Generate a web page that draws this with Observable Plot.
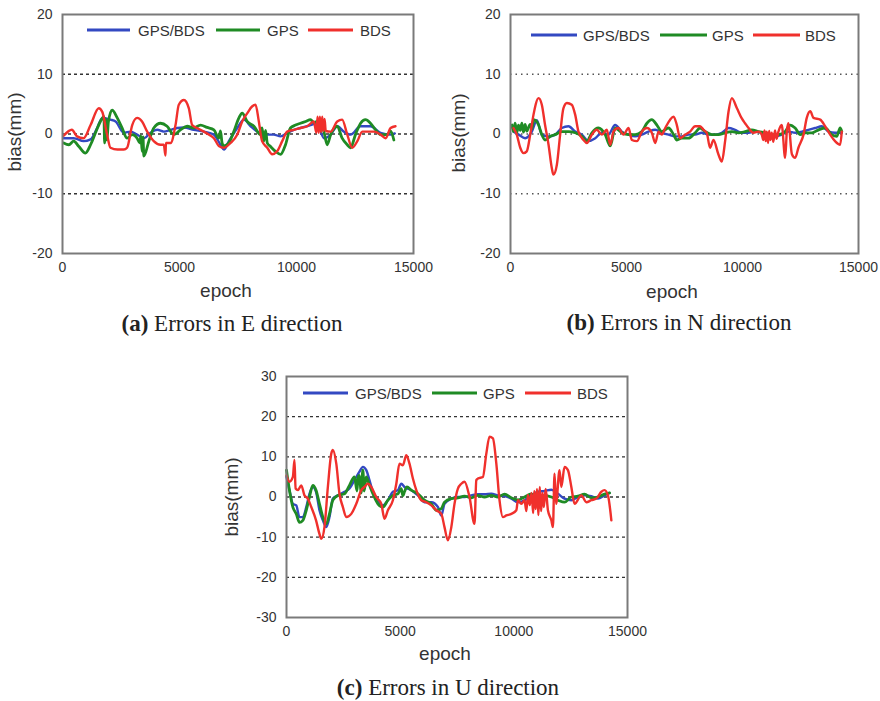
<!DOCTYPE html>
<html><head><meta charset="utf-8">
<script src="https://cdn.jsdelivr.net/npm/d3@7"></script>
<script src="https://cdn.jsdelivr.net/npm/@observablehq/plot@0.6"></script>
<style>
body{margin:0;background:#fff;}
#root{position:relative;width:880px;height:701px;overflow:hidden;background:#fff;}
#root svg{position:absolute;}
</style></head><body><div id="root"></div>
<script>
// ---------- labels ----------
const seriesNames = ["GPS/BDS", "GPS", "BDS"];
const seriesColors = ["#3349c2", "#1f8b24", "#f0302c"];
const xTicks = [0, 5000, 10000, 15000];
const yTicksEN = [-20, -10, 0, 10, 20];
const yTicksU = [-30, -20, -10, 0, 10, 20, 30];
const gridEN = [-10, 0, 10];
const gridU = [-20, -10, 0, 10, 20];
const panelLetters = ["(a)", "(b)", "(c)"];
const panelTitles = [" Errors in E direction", " Errors in N direction", " Errors in U direction"];
const yLabel = "bias(mm)";
const xLabel = "epoch";

// ---------- (a) E direction: [epoch, bias mm] ----------
const eGpsBds = [[50,-0.7],[480,-0.7],[900,-1.2],[1200,-0.9],[1480,1.0],[1700,2.7],[2050,2.4],[2270,2.1],[2620,0.2],[2910,0.4],[3190,-0.1],[3480,-0.7],[3760,0.2],[4050,0.7],[4330,0.4],[4620,0.7],[4900,1.0],[5190,1.1],[5610,0.7],[6040,0.4],[6470,-0.1],[6750,-1.8],[6900,-2.6],[7110,-1.2],[7470,1.0],[7750,2.4],[8040,1.3],[8320,0.4],[8600,-0.1],[9030,-0.1],[9320,-0.4],[9600,0.2],[9890,0.7],[10170,1.0],[10600,1.5],[10890,1.8],[11170,-0.7],[11460,-0.1],[11740,1.3],[12020,0.4],[12310,-0.1],[12740,1.3],[13160,1.3],[13590,0.2],[14020,-0.1],[14200,0.1]];
const eGps = [[50,-1.5],[270,-1.8],[480,-1.2],[700,-2.1],[980,-3.2],[1200,-1.8],[1410,0.2],[1620,2.1],[1770,2.9],[1800,-1.5],[1850,2.5],[1900,-1.0],[1960,2.0],[2120,4.0],[2340,2.7],[2550,1.0],[2760,-0.7],[2980,-0.1],[3190,-0.7],[3300,-1.5],[3350,-0.3],[3405,-2.9],[3440,-0.5],[3476,-3.7],[3690,-1.2],[3900,1.0],[4190,1.8],[4470,1.3],[4760,-0.1],[5040,0.7],[5330,1.3],[5610,1.0],[5900,1.5],[6180,1.1],[6470,0.7],[6680,-0.7],[6750,0.5],[6820,-1.5],[6900,-2.0],[7110,-1.5],[7320,0.4],[7540,2.7],[7680,3.5],[7890,2.1],[8180,1.3],[8460,-0.1],[8530,1.0],[8600,-1.2],[8680,0.6],[8750,-1.5],[8890,-2.1],[9100,-2.9],[9320,-3.4],[9530,-1.8],[9740,1.0],[9960,1.5],[10170,1.8],[10390,2.1],[10600,2.4],[10740,1.9],[10890,2.1],[11170,0.4],[11310,-1.8],[11460,-0.1],[11740,1.3],[11950,-0.7],[12170,-1.8],[12310,-2.3],[12520,-0.1],[12740,1.8],[12950,2.4],[13160,1.8],[13380,0.7],[13590,-0.1],[13880,-0.1],[14020,0.5],[14160,-1.0]];
const eBds = [[50,-0.3],[400,0.7],[620,-0.4],[900,-0.7],[1200,1.5],[1550,4.3],[1700,3.7],[1900,0],[2050,-2.3],[2350,-2.6],[2620,-2.6],[2760,-2.3],[2980,1.5],[3190,2.7],[3400,2.1],[3620,0.4],[3900,-1.2],[4190,-1.8],[4330,-1.8],[4400,-3.6],[4420,-1.5],[4620,-1.5],[4830,1.5],[4970,4.9],[5190,5.7],[5400,4.3],[5540,1.5],[5750,1.0],[6040,0.4],[6250,-0.1],[6470,-0.7],[6680,-2.0],[6900,-2.3],[7180,-1.5],[7470,-0.1],[7680,2.1],[7900,3.5],[8100,4.6],[8250,4.9],[8390,2.1],[8530,-1.2],[8750,-2.3],[8960,-3.4],[9170,-2.9],[9390,-1.2],[9600,0.4],[9890,0.7],[10170,1.0],[10460,1.3],[10740,2.1],[10850,0.2],[10900,2.9],[10950,0.2],[11000,2.9],[11050,0.3],[11100,2.9],[11150,0.5],[11200,2.5],[11250,0.5],[11460,0.4],[11740,2.1],[11950,2.4],[12170,-0.1],[12380,-2.3],[12600,-1.2],[12810,0.4],[13020,0.4],[13310,0.4],[13590,-0.1],[13810,-0.7],[14020,1.0],[14230,1.3]];

// ---------- (b) N direction ----------
const nGpsBds = [[130,0.4],[350,-0.1],[630,-0.7],[920,0.4],[1135,2.3],[1350,-0.1],[1640,-0.4],[1930,-0.1],[2210,1.0],[2500,1.3],[2790,0.4],[3080,-0.1],[3360,-1.2],[3650,-0.7],[3940,0.2],[4220,-0.1],[4510,1.5],[4800,0.4],[5090,-0.1],[5370,-0.4],[5660,-0.1],[5950,0.4],[6240,0.7],[6520,0.2],[6810,-0.1],[7100,-0.4],[7380,-0.4],[7670,-0.1],[7960,-0.1],[8250,0.2],[8530,-0.1],[8820,-0.1],[9110,0.2],[9400,1.0],[9680,0.7],[9970,0.2],[10260,0.2],[10550,0.4],[10830,0.2],[11120,-0.1],[11410,-0.4],[11690,-0.1],[11980,0.4],[12270,0.2],[12560,0.4],[12840,0.7],[13130,1.0],[13420,1.3],[13710,0.4],[13990,0.2],[14280,0.2]];
const nGps = [[60,1.5],[130,0.4],[200,1.8],[270,0.2],[345,1.5],[420,0.6],[490,1.8],[560,0.3],[630,1.6],[700,0.5],[850,1.6],[920,0.8],[1000,2.4],[1210,1.5],[1350,-0.1],[1490,-1.0],[1710,-0.4],[1930,-0.1],[2210,0.4],[2500,0.4],[2790,0.2],[3080,-0.4],[3290,-1.2],[3510,0.2],[3790,1.0],[4080,-0.1],[4300,-2.0],[4510,1.0],[4800,0.2],[5090,-0.1],[5370,-0.1],[5660,0.4],[5880,1.8],[6090,2.4],[6310,1.5],[6520,0.4],[6810,1.0],[7030,-0.1],[7170,-1.0],[7380,-0.7],[7670,-0.7],[7960,0.2],[8170,1.0],[8390,0.4],[8680,-0.1],[8960,-0.1],[9250,0.2],[9540,0.4],[9830,0.2],[10110,0.4],[10400,0.7],[10690,0.4],[10980,0.2],[11260,-0.1],[11550,-0.1],[11840,0.4],[12050,1.5],[12270,1.0],[12490,-0.1],[12700,0.2],[12990,0.2],[13280,0.7],[13560,1.0],[13850,-0.1],[14060,-0.4],[14210,1.0],[14280,0.4]];
const nBds = [[130,1.0],[270,-0.1],[420,-2.3],[560,-3.2],[700,-2.9],[850,-0.1],[990,3.2],[1210,6.0],[1350,4.9],[1490,1.5],[1640,-1.8],[1780,-5.7],[1850,-6.8],[2000,-5.1],[2140,-0.1],[2280,4.3],[2430,5.2],[2640,4.9],[2790,3.2],[2930,0.4],[3150,-1.0],[3290,-1.5],[3510,-0.1],[3720,0.7],[3940,-0.1],[4150,0.7],[4300,-1.8],[4440,0.4],[4650,1.0],[4870,-0.1],[5090,1.0],[5230,-1.0],[5450,-1.2],[5660,0.4],[5880,1.0],[6090,0.2],[6240,-1.5],[6380,0.4],[6520,-0.1],[6670,1.0],[6880,2.4],[7030,2.9],[7170,1.5],[7310,-0.7],[7530,-0.1],[7740,0.4],[7960,1.3],[8170,1.3],[8320,0.7],[8460,0.2],[8600,-2.3],[8750,-1.0],[8960,-3.4],[9110,-4.6],[9250,-1.2],[9400,3.8],[9540,6.0],[9760,4.3],[9970,2.6],[10110,1.8],[10260,1.0],[10470,0.2],[10690,0.4],[10830,-0.1],[10900,-1.0],[10950,0.6],[11000,-1.2],[11050,0.4],[11100,-1.5],[11150,0.5],[11200,-1.0],[11260,0.2],[11330,-1.3],[11400,0.6],[11470,-0.8],[11550,0.4],[11690,1.5],[11840,-4.0],[11910,0.4],[11980,1.8],[12130,-3.4],[12270,-4.0],[12410,-2.3],[12630,-0.1],[12770,2.7],[12920,3.8],[13060,2.7],[13350,2.4],[13560,1.3],[13780,-0.1],[13990,-1.2],[14210,-1.8],[14280,0.4]];

// ---------- (c) U direction ----------
const uGpsBds = [[0,5.0],[130,1.7],[280,-1.7],[430,-2.1],[570,-5.0],[720,-5.0],[870,-2.5],[1010,0.8],[1160,2.5],[1300,1.3],[1450,-3.3],[1600,-5.8],[1750,-7.5],[1890,-5.0],[2040,-0.4],[2260,0.4],[2550,1.3],[2770,2.1],[2990,4.2],[3210,6.3],[3360,7.5],[3510,6.7],[3650,4.2],[3800,1.3],[4020,-0.8],[4240,-2.1],[4460,-0.8],[4680,1.3],[4900,1.7],[5050,3.3],[5190,2.5],[5490,1.7],[5780,0.4],[6070,-1.3],[6370,-1.3],[6660,-2.5],[6810,-4.6],[6950,-1.7],[7250,-0.4],[7540,0],[7830,0],[8130,0.4],[8420,0.7],[8710,0.7],[9010,0.8],[9300,0.4],[9590,0.2],[9890,-0.4],[10180,-1.3],[10470,-0.8],[10770,0.4],[11060,1.3],[11350,1.5],[11650,1.8],[11940,0.8],[12230,-0.4],[12530,-0.8],[12820,0],[13110,0.4],[13410,0.2],[13700,-0.4],[13990,0.4],[14210,1.0]];
const uGps = [[0,6.7],[130,1.7],[280,-2.5],[430,-4.2],[570,-6.3],[720,-5.8],[870,-3.3],[1010,0],[1160,2.9],[1300,1.7],[1450,-1.7],[1600,-5.0],[1750,-6.7],[1890,-4.2],[2040,-0.8],[2260,0.4],[2550,0.8],[2770,2.9],[2990,5.0],[3100,1.5],[3150,5.0],[3210,5.4],[3280,1.0],[3359,6.7],[3420,1.5],[3505,5.0],[3650,2.9],[3800,0.8],[4020,-1.7],[4240,-2.5],[4460,-0.8],[4680,0.4],[4900,0.8],[5050,2.1],[5120,0.3],[5190,1.3],[5300,2.5],[5485,1.7],[5780,0.8],[6070,-0.8],[6370,-1.7],[6590,-3.3],[6810,-2.9],[6950,-1.3],[7250,-0.4],[7540,-0.2],[7830,0.2],[8130,-0.2],[8420,0.4],[8710,0],[9010,0.4],[9300,0],[9590,0.7],[9890,-0.2],[10180,-0.7],[10470,0],[10770,0.8],[11060,-0.4],[11350,0.4],[11650,0],[11940,-0.8],[12230,-1.3],[12530,0],[12820,0.2],[13110,0.7],[13410,-0.2],[13700,0],[13990,0.7],[14210,1.0]];
const uBds = [[0,5.4],[130,3.8],[280,5.0],[350,9.2],[400,2.1],[500,1.7],[650,2.9],[790,0.4],[940,-0.4],[1090,-2.5],[1300,-5.8],[1450,-9.2],[1530,-10.4],[1670,-7.5],[1820,2.5],[1970,10.8],[2040,11.7],[2190,8.3],[2330,0.8],[2480,-2.5],[2630,-5.0],[2850,-4.2],[3070,-1.7],[3290,1.7],[3430,2.5],[3580,3.3],[3730,2.5],[3950,0],[4170,-1.7],[4310,-5.4],[4460,-3.3],[4680,-0.8],[4830,3.3],[4970,8.3],[5120,7.9],[5270,10.4],[5410,8.3],[5560,4.6],[5710,1.7],[5930,-0.8],[6150,-1.3],[6370,-2.1],[6590,-3.3],[6810,-4.2],[6950,-7.5],[7100,-10.8],[7250,-7.5],[7390,-1.7],[7540,2.1],[7690,3.3],[7830,3.8],[8050,0],[8270,-6.7],[8350,4.2],[8420,4.6],[8640,5.0],[8790,10.8],[8930,15.0],[9080,14.6],[9230,8.3],[9370,-0.8],[9520,-5.0],[9670,-4.6],[9890,-4.2],[10110,-3.3],[10180,-0.8],[10330,-1.7],[10470,-0.8],[10550,-3.5],[10620,0.5],[10700,-2.0],[10780,1.0],[10850,-4.0],[10900,1.5],[10960,-3.0],[11020,2.0],[11080,-4.5],[11140,2.5],[11200,-3.5],[11260,1.0],[11320,-2.5],[11400,2.0],[11500,-3.3],[11650,-5.8],[11720,-7.5],[11790,5.8],[11860,-1.7],[12010,6.7],[12090,2.5],[12230,7.5],[12380,6.7],[12530,2.5],[12670,-1.7],[12970,0.4],[13190,-1.3],[13410,-0.8],[13630,-0.4],[13850,1.3],[13990,1.7],[14140,0.4],[14290,-5.8]];

// ---------- layout ----------
const root = document.getElementById("root");
const panels = [
  {series:[eGpsBds,eGps,eBds], left:0, top:0, w:440, h:300, ml:62, mr:27, mt:14, mb:47, yDomain:[-20,20], yTicks:yTicksEN, grid:gridEN, dash:"3,3", gridColor:"#333",
   legY:30, leg:[[87,130,138],[216,260,267],[308,353,360]], yl:[21,132], xl:[226,297], cap:[232,331]},
  {series:[nGpsBds,nGps,nBds], left:440, top:0, w:440, h:300, ml:70, mr:22, mt:14, mb:47, yDomain:[-20,20], yTicks:yTicksEN, grid:gridEN, dash:"1.5,4", gridColor:"#555",
   legY:35, leg:[[531,577,583],[660,707,712],[753,800,805]], yl:[465,133], xl:[672,298], cap:[679,330]},
  {series:[uGpsBds,uGps,uBds], left:220, top:360, w:440, h:300, ml:66, mr:33, mt:16, mb:43, yDomain:[-30,30], yTicks:yTicksU, grid:gridU, dash:"3,3", gridColor:"#333",
   legY:393, leg:[[303,348,355],[432,477,483],[525,571,577]], yl:[238,497], xl:[445,660], cap:[448,695]}
];

panels.forEach((p) => {
  const lineMarks = p.series.map((arr, i) => Plot.line(arr, {
    x: d => d[0], y: d => d[1], stroke: seriesColors[i], strokeWidth: i === 1 ? 2.8 : 2.4,
    strokeLinejoin: "round", curve: "monotone-x"
  }));
  const chart = Plot.plot({
    width: p.w, height: p.h,
    marginLeft: p.ml, marginRight: p.mr, marginTop: p.mt, marginBottom: p.mb,
    style: {fontFamily: "'Liberation Sans', Arial, sans-serif", fontSize: "14px", color: "#333", background: "transparent"},
    x: {domain: [0, 15000], ticks: xTicks, label: null},
    y: {domain: p.yDomain, ticks: p.yTicks, label: null},
    marks: [
      Plot.gridY(p.grid, {stroke: p.gridColor, strokeOpacity: 1, strokeWidth: 1.3, strokeDasharray: p.dash}),
      Plot.axisX({ticks: xTicks, tickSize: 0, tickPadding: 9, tickFormat: d => String(d), fill: "#333"}),
      Plot.axisY({ticks: p.yTicks, tickSize: 0, tickPadding: 10, tickFormat: d => String(d), fill: "#333"}),
      ...lineMarks,
      Plot.frame({stroke: "#7a7a7a", strokeWidth: 2})
    ]
  });
  chart.style.left = p.left + "px";
  chart.style.top = p.top + "px";
  root.appendChild(chart);
});

// ---------- overlay text: legends, axis titles, captions ----------
const ov = d3.select(root).append("svg")
  .attr("width", 880).attr("height", 701)
  .style("left", "0px").style("top", "0px").style("pointer-events", "none");

panels.forEach((p, k) => {
  p.leg.forEach(([x1, x2, tx], i) => {
    ov.append("line").attr("x1", x1).attr("x2", x2).attr("y1", p.legY).attr("y2", p.legY)
      .attr("stroke", seriesColors[i]).attr("stroke-width", 2.8);
    ov.append("text").attr("x", tx).attr("y", p.legY + 5.5).text(seriesNames[i])
      .attr("font-family", "'Liberation Sans', Arial, sans-serif").attr("font-size", 15).attr("fill", "#333");
  });
  ov.append("text").attr("transform", `translate(${p.yl[0]},${p.yl[1]}) rotate(-90)`)
    .attr("text-anchor", "middle").text(yLabel)
    .attr("font-family", "'Liberation Sans', Arial, sans-serif").attr("font-size", 19).attr("fill", "#333");
  ov.append("text").attr("x", p.xl[0]).attr("y", p.xl[1]).attr("text-anchor", "middle").text(xLabel)
    .attr("font-family", "'Liberation Sans', Arial, sans-serif").attr("font-size", 19).attr("fill", "#333");
  const cap = ov.append("text").attr("x", p.cap[0]).attr("y", p.cap[1]).attr("text-anchor", "middle")
    .attr("font-family", "'Liberation Serif', 'Times New Roman', serif").attr("font-size", 23).attr("fill", "#222");
  cap.append("tspan").attr("font-weight", "bold").text(panelLetters[k]);
  cap.append("tspan").text(panelTitles[k]);
});
</script>
</body></html>
